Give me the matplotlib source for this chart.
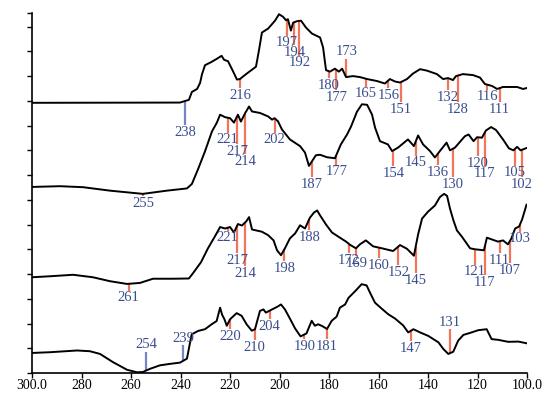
import numpy as np
import matplotlib.pyplot as plt

# ---- traces, top to bottom: wavelength (nm) and offset signal ----
wl_a = [300, 240.2, 238.6, 236.6, 235.4, 233.3, 232.1, 231.3, 230.1, 227.7, 225.3, 223.4, 222.4, 220.8,
        218.8, 217.2, 216.0, 213.5, 209.5, 208.3, 207.1, 204.6, 201.8, 200.2, 198.6, 197.4, 196.6, 195.4,
        194.5, 192.9, 191.3, 189.3, 186.9, 183.6, 182.4, 181.2, 179.6, 177.6, 176.0, 174.7, 173.1, 170.3,
        167.5, 164.6, 160.6, 157.4, 155.4, 153.3, 151.3, 148.5, 146.1, 143.2, 140.4, 136.4, 133.9, 131.9,
        129.9, 128.7, 125.9, 121.8, 119.0, 117.0, 114.1, 112.1, 109.7, 104.0, 101.6, 100.0]
sig_a = [10.92, 10.93, 10.98, 11.04, 11.36, 11.48, 11.72, 12.08, 12.44, 12.56, 12.70, 12.82, 12.66, 12.60,
         12.20, 11.86, 11.88, 12.08, 12.38, 13.04, 13.76, 13.92, 14.24, 14.50, 14.40, 14.26, 14.30, 13.84,
         14.16, 14.22, 14.24, 13.96, 13.72, 13.56, 13.16, 12.24, 12.18, 12.30, 12.18, 12.30, 11.96, 12.00,
         11.96, 11.88, 11.80, 11.70, 11.88, 11.78, 11.74, 11.88, 12.10, 12.28, 12.22, 12.08, 11.88, 11.92,
         11.84, 12.00, 12.08, 12.04, 11.94, 11.68, 11.60, 11.48, 11.56, 11.56, 11.48, 11.52]

wl_b = [300, 288.7, 279.4, 268.5, 255.2, 245.5, 237.4, 235.4, 232.9, 230.1, 227.3, 225.3, 224.0, 222.0,
        220.0, 218.4, 216.8, 215.6, 213.9, 212.3, 211.1, 207.9, 204.6, 203.0, 202.0, 200.6, 199.0, 195.8,
        191.7, 189.7, 188.1, 185.3, 183.6, 180.8, 177.6, 175.2, 172.7, 171.1, 168.7, 166.7, 164.6, 162.6,
        161.4, 159.4, 156.2, 154.5, 152.1, 148.1, 145.7, 144.0, 142.0, 139.2, 137.2, 135.2, 132.5, 131.1,
        129.1, 125.1, 123.6, 121.6, 120.2, 118.2, 116.6, 114.5, 112.5, 109.7, 107.3, 105.5, 104.0, 102.6,
        100.0]
sig_b = [7.52, 7.55, 7.51, 7.37, 7.24, 7.37, 7.46, 7.64, 8.24, 8.96, 9.76, 10.12, 10.44, 10.34,
         10.30, 10.12, 10.44, 10.16, 10.50, 10.77, 10.57, 10.51, 10.37, 10.24, 10.30, 10.17, 9.84, 9.44,
         9.17, 8.91, 8.37, 8.80, 8.82, 8.72, 8.68, 9.24, 9.64, 9.96, 10.56, 10.86, 10.84, 10.44,
         9.92, 9.37, 9.24, 8.97, 9.11, 9.44, 9.17, 9.60, 9.24, 8.97, 8.71, 8.97, 9.31, 9.00,
         9.11, 9.57, 9.64, 9.37, 9.53, 9.51, 9.80, 9.94, 9.82, 9.44, 9.08, 9.00, 9.14, 9.00,
         9.10]

wl_c = [300, 292.7, 283.4, 275.4, 268.5, 261.6, 256.4, 251.1, 243.0, 236.6, 234.9, 231.7, 228.9, 226.1,
        224.0, 222.0, 220.0, 218.4, 216.8, 215.2, 213.5, 212.3, 211.1, 207.1, 204.6, 202.4, 201.0, 199.4,
        197.8, 195.8, 193.7, 191.7, 189.7, 187.7, 186.1, 184.8, 183.6, 181.2, 178.8, 175.6, 173.1, 171.5,
        169.1, 167.5, 165.1, 162.2, 158.6, 154.1, 151.3, 148.5, 145.7, 144.0, 142.4, 140.0, 137.2, 135.2,
        133.5, 132.3, 131.1, 129.7, 128.3, 126.3, 123.0, 121.0, 117.4, 116.2, 113.7, 111.7, 109.7, 107.7,
        106.3, 104.8, 103.2, 102.0, 100.2]
sig_c = [3.87, 3.91, 3.97, 3.87, 3.71, 3.60, 3.64, 3.81, 3.81, 3.82, 4.04, 4.48, 5.04, 5.52,
         5.90, 5.84, 5.90, 5.68, 6.02, 5.96, 6.12, 6.30, 5.80, 5.71, 5.57, 5.36, 4.96, 4.76,
         5.04, 5.44, 5.64, 5.97, 5.84, 6.28, 6.48, 6.57, 6.37, 6.00, 5.68, 5.47, 5.31, 5.18,
         5.04, 5.20, 5.36, 5.12, 5.04, 4.93, 5.17, 5.02, 4.74, 5.60, 6.24, 6.52, 6.77, 7.11,
         7.24, 7.16, 6.64, 6.16, 5.76, 5.51, 5.04, 5.00, 4.96, 5.47, 5.38, 5.31, 5.36, 5.20,
         5.44, 5.84, 5.92, 6.20, 6.80]

wl_d = [300, 292.7, 281.8, 276.6, 272.5, 267.3, 261.6, 257.6, 255.2, 252.3, 248.3, 244.2, 240.2, 237.4,
        235.5, 232.9, 230.1, 227.4, 225.4, 224.0, 223.2, 222.2, 221.3, 220.0, 217.3, 215.3, 213.3, 211.2,
        209.9, 207.9, 206.5, 205.5, 203.0, 201.0, 199.4, 197.8, 195.8, 193.7, 191.5, 189.1, 187.0, 185.7,
        184.4, 182.8, 180.8, 178.9, 176.9, 175.6, 173.5, 172.1, 169.5, 166.8, 164.8, 163.4, 161.4, 158.7,
        156.0, 153.3, 150.0, 148.0, 145.9, 143.2, 139.9, 135.8, 133.8, 131.8, 129.8, 127.8, 125.7, 123.0,
        119.7, 116.3, 114.3, 111.6, 107.6, 103.5, 100.1]
sig_d = [0.81, 0.84, 0.91, 0.88, 0.77, 0.44, 0.13, 0.03, 0.04, 0.17, 0.31, 0.37, 0.42, 0.58,
         1.56, 1.70, 1.77, 1.97, 2.10, 2.64, 2.36, 2.16, 1.91, 2.17, 2.42, 2.31, 1.97, 1.71,
         1.77, 2.51, 2.57, 2.44, 2.57, 2.67, 2.77, 2.57, 2.20, 1.80, 1.48, 1.60, 2.11, 1.91,
         1.97, 1.90, 1.78, 2.11, 2.28, 2.64, 2.77, 3.04, 3.30, 3.59, 3.54, 3.24, 2.84, 2.60,
         2.37, 2.20, 1.92, 1.64, 1.77, 1.64, 1.50, 1.24, 0.97, 0.77, 0.86, 1.31, 1.54, 1.62,
         1.73, 1.77, 1.37, 1.34, 1.26, 1.27, 1.20]

# ---- peak marks: wavelength and drop below the trace (negative = drawn upwards) ----
peaks_a = [238, 216, 197, 194, 192, 180, 177, 173, 165, 156, 151, 132, 128, 116, 111]
drop_a = [0.98, 0.36, 0.64, 0.92, 1.4, 0.28, 0.82, -0.72, 0.32, 0.30, 0.8, 0.48, 1.06, 0.2, 0.56]
blue_a = [238]

peaks_b = [255, 221, 217, 214, 202, 187, 177, 154, 145, 136, 130, 120, 117, 105, 102]
drop_b = [0.08, 0.6, 1.16, 1.64, 0.58, 0.62, 0.4, 0.63, 0.56, 0.47, 1.14, 0.76, 1.37, 0.67, 1.11]
blue_b = []

peaks_c = [261, 221, 217, 214, 198, 188, 172, 169, 160, 152, 145, 121, 117, 111, 107, 103]
drop_c = [0.28, 0.12, 1.12, 1.76, 0.48, 0.45, 0.37, 0.32, 0.44, 0.75, 1.07, 0.62, 1.16, 0.49, 0.88, 0.25]
blue_c = []

peaks_d = [254, 239, 220, 210, 204, 190, 181, 147, 131]
drop_d = [-0.75, -0.63, 0.4, 0.45, 0.34, 0.2, 0.42, 0.4, -0.96]
blue_d = [254, 239]

xticks = [300, 280, 260, 240, 220, 200, 180, 160, 140, 120, 100]
xlabels = ['300.0', '280', '260', '240', '220', '200', '180', '160', '140', '120', '100.0']

RED = '#f0755a'
BLUE = '#7385c4'
TXT = '#3a4d8c'
plt.rcParams['font.family'] = ['Liberation Serif', 'DejaVu Serif']

fig = plt.figure(figsize=(5.48, 3.94), dpi=100)
ax = fig.add_axes([32 / 548, 21 / 394, 495 / 548, 360 / 394])

traces = [(wl_a, sig_a, peaks_a, drop_a, blue_a),
          (wl_b, sig_b, peaks_b, drop_b, blue_b),
          (wl_c, sig_c, peaks_c, drop_c, blue_c),
          (wl_d, sig_d, peaks_d, drop_d, blue_d)]

for wl, sig, peaks, drops, blues in traces:
    wl = np.array(wl)
    sig = np.array(sig)
    for p, d in zip(peaks, drops):
        y0 = np.interp(p, wl[::-1], sig[::-1])
        y1 = y0 - d
        c = BLUE if p in blues else RED
        ax.plot([p, p], [y0, y1], color=c, lw=1.6, solid_capstyle='butt', zorder=1)
        if d > 0:
            ax.text(p, y1 - 0.03, str(p), ha='center', va='top', fontsize=10.5, color=TXT)
        else:
            ax.text(p, y1 + 0.03, str(p), ha='center', va='bottom', fontsize=10.5, color=TXT)
    ax.plot(wl, sig, color='black', lw=1.4, zorder=2)

ax.set_xlim(300, 100)
ax.set_ylim(0, 14.55)
ax.set_xticks(xticks)
ax.set_xticklabels(xlabels, fontsize=10)
ax.set_yticks(list(range(0, 15)) + [14.55])
ax.set_yticklabels([])
ax.tick_params(direction='out', length=3.5, width=1, pad=0.5)
ax.spines['top'].set_visible(False)
ax.spines['right'].set_visible(False)
for s in ['left', 'bottom']:
    ax.spines[s].set_linewidth(1.2)

fig.savefig('out.png', dpi=100)
